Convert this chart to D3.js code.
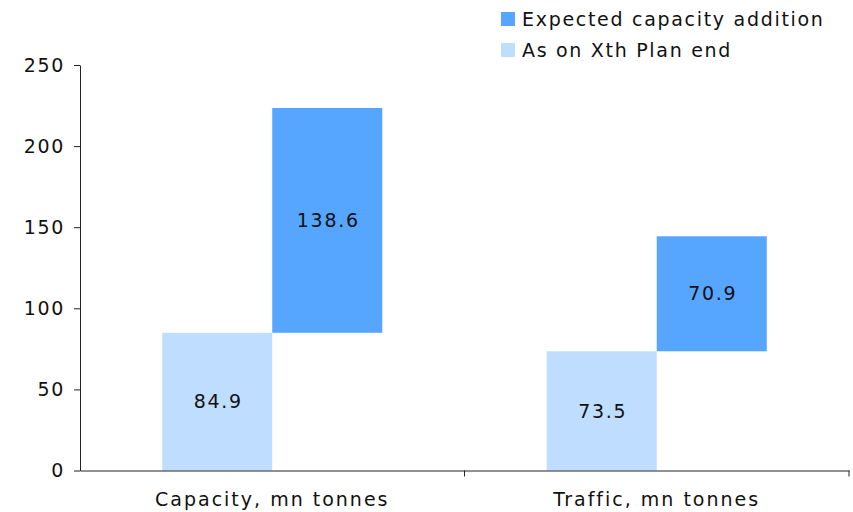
<!DOCTYPE html>
<html>
<head>
<meta charset="utf-8">
<script src="https://cdn.jsdelivr.net/npm/d3@7"></script>
<style>
  body { margin: 0; background: #fff; }
  svg { display: block; }
  svg text { font-family: "DejaVu Sans", Verdana, sans-serif; font-size: 19px; fill: #111; }
</style>
</head>
<body>
<svg width="853" height="512"></svg>
<script>
// chart data
const categories = ['Capacity, mn tonnes', 'Traffic, mn tonnes'];
const seriesNames = ['As on Xth Plan end', 'Expected capacity addition'];
const asOnPlanEnd = [84.9, 73.5];
const expectedAddition = [138.6, 70.9];
const yTicks = [0, 50, 100, 150, 200, 250];

const colors = ['#bfddff', '#56a5ff'];

const svg = d3.select('svg');
const plotLeft = 80, plotRight = 849, plotTop = 65, plotBottom = 470.5;

// scales
const x0 = d3.scaleBand().domain(categories).range([plotLeft, plotRight]).padding(0);
const x1 = d3.scaleBand().domain(seriesNames).range([0, x0.bandwidth()])
             .paddingInner(0).paddingOuter(0.747);
const y = d3.scaleLinear().domain([0, 250]).range([plotBottom, plotTop]);

// second series sits on top of the first one, in the next slot
const rows = categories.map((c, i) => ({
  cat: c,
  segs: [
    { name: seriesNames[0], y0: 0, y1: asOnPlanEnd[i], v: asOnPlanEnd[i], color: colors[0] },
    { name: seriesNames[1], y0: asOnPlanEnd[i], y1: asOnPlanEnd[i] + expectedAddition[i], v: expectedAddition[i], color: colors[1] }
  ]
}));

// bars
const groups = svg.append('g')
  .selectAll('g')
  .data(rows)
  .enter()
  .append('g')
  .attr('transform', d => `translate(${x0(d.cat)}, 0)`);

groups.selectAll('rect')
  .data(d => d.segs)
  .enter()
  .append('rect')
  .attr('x', d => x1(d.name))
  .attr('width', x1.bandwidth())
  .attr('y', d => y(d.y1))
  .attr('height', d => y(d.y0) - y(d.y1))
  .attr('fill', d => d.color);

groups.selectAll('text')
  .data(d => d.segs)
  .enter()
  .append('text')
  .attr('x', d => x1(d.name) + x1.bandwidth() / 2 + 1)
  .attr('y', d => (y(d.y0) + y(d.y1)) / 2)
  .attr('dy', '0.35em')
  .attr('text-anchor', 'middle')
  .style('letter-spacing', '1.7px')
  .text(d => d.v.toFixed(1));

// y axis
const yAxis = d3.axisLeft(y).tickValues(yTicks).tickSize(6).tickSizeOuter(0).tickPadding(9);
const yG = svg.append('g')
  .attr('transform', `translate(${plotLeft}, 0)`)
  .call(yAxis)
  .attr('font-family', null)
  .attr('font-size', null);
yG.selectAll('text')
  .attr('fill', null)
  .style('letter-spacing', '1.7px');
yG.selectAll('line, path').attr('stroke', '#222');

// x axis
const xAxis = d3.axisBottom(x0).tickSize(0).tickPadding(22);
const xG = svg.append('g')
  .attr('transform', `translate(0, ${plotBottom})`)
  .call(xAxis)
  .attr('font-family', null)
  .attr('font-size', null);
xG.select('.domain').attr('stroke', '#222');
xG.selectAll('text')
  .attr('fill', null)
  .style('letter-spacing', '2px');

// category boundary ticks
const bounds = categories.map(c => x0(c)).concat([x0.range()[1]]).slice(1);
xG.selectAll('.bound')
  .data(bounds)
  .enter()
  .append('line')
  .attr('class', 'bound')
  .attr('x1', d => d)
  .attr('x2', d => d)
  .attr('y1', 0)
  .attr('y2', 6)
  .attr('stroke', '#222');

// legend
const legend = svg.append('g')
  .selectAll('g')
  .data(seriesNames.slice().reverse())
  .enter()
  .append('g')
  .attr('transform', (d, i) => `translate(501, ${12 + i * 31})`);

legend.append('rect')
  .attr('width', 14)
  .attr('height', 14)
  .attr('fill', d => colors[seriesNames.indexOf(d)]);

legend.append('text')
  .attr('x', 21)
  .attr('y', 7)
  .attr('dy', '0.35em')
  .style('letter-spacing', '1.7px')
  .text(d => d);
</script>
</body>
</html>
